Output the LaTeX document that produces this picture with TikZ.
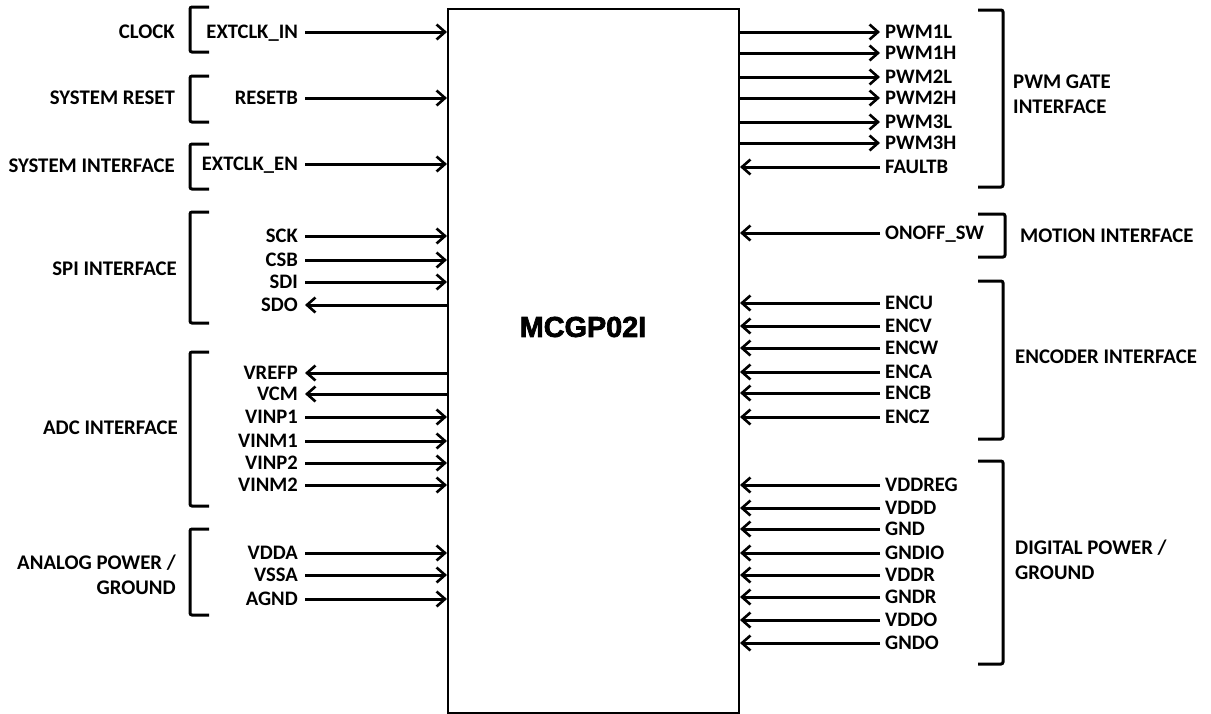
\documentclass[tikz,border=0pt]{standalone}
\usepackage{fontspec}
\setmainfont{Carlito}
\newfontfamily\titlefont{Liberation Sans}[BoldFeatures={FakeBold=2.5}]
\usetikzlibrary{arrows.meta}
\begin{document}
\begin{tikzpicture}[x=1pt,y=-1pt,
  pin/.style={font=\bfseries\fontsize{20.6}{22}\selectfont, inner sep=0pt},
  grp/.style={font=\bfseries\fontsize{20.8}{25.5}\selectfont, inner sep=0pt},
  sig/.style={line width=3pt},
  tipend/.style={-{Straight Barb[length=8.5pt,width=15pt,line width=2.6pt]}},
  tipstart/.style={{Straight Barb[length=8.5pt,width=15pt,line width=2.6pt]}-},
  brk/.style={line width=3pt, rounded corners=2pt}]
\useasboundingbox (0,0) rectangle (1211,713);
\node[draw, line width=2pt, minimum width=291pt, minimum height=704pt, inner sep=0pt, anchor=north west] (chip) at (447,8) {};
\node[font=\titlefont\bfseries\fontsize{28.8}{30}\selectfont, inner sep=0pt] (title) at (583,327) {MCGP02I};

% left pins
\foreach \t/\y/\d [count=\i] in {EXTCLK\_IN/32/tipend, RESETB/98/tipend, EXTCLK\_EN/164/tipend,
  SCK/236/tipend, CSB/260/tipend, SDI/282/tipend, SDO/305/tipstart,
  VREFP/373/tipstart, VCM/394/tipstart, VINP1/417/tipend, VINM1/441/tipend, VINP2/463/tipend, VINM2/485/tipend,
  VDDA/553/tipend, VSSA/575/tipend, AGND/599/tipend}{
  \node[pin, anchor=base east] (L\i) at (298,\y+6.8) {\t};
  \coordinate (La\i) at ([xshift=7pt,yshift=6.8pt]L\i.base east);
  \draw[sig,\d] (La\i) -- (La\i -| chip.west);
}

% right pins
\foreach \t/\y/\d [count=\i] in {PWM1L/32/tipstart, PWM1H/53/tipstart, PWM2L/77/tipstart, PWM2H/98/tipstart,
  PWM3L/122/tipstart, PWM3H/143/tipstart, FAULTB/167/tipend, ONOFF\_SW/233/tipend,
  ENCU/303/tipend, ENCV/326/tipend, ENCW/348/tipend, ENCA/372/tipend, ENCB/393/tipend, ENCZ/417/tipend,
  VDDREG/485/tipend, VDDD/508/tipend, GND/529/tipend, GNDIO/553/tipend, VDDR/575/tipend, GNDR/597/tipend,
  VDDO/620/tipend, GNDO/643/tipend}{
  \node[pin, anchor=base west] (R\i) at (885,\y+6.8) {\t};
  \coordinate (Ra\i) at ([xshift=-5pt,yshift=6.8pt]R\i.base west);
  \draw[sig,\d] (Ra\i) -- (Ra\i -| chip.east);
}

% left brackets
\foreach \a/\b in {7/52, 76/122, 144/189, 212/323, 352/506, 529/615}{
  \draw[brk] (209,\a) -- (190,\a) -- (190,\b) -- (209,\b);
}
% right brackets
\foreach \a/\b/\x in {10/187/1003, 214/257/1005, 281/439/1003, 461/664/1003}{
  \draw[brk] (978,\a) -- (\x,\a) -- (\x,\b) -- (978,\b);
}

% left group labels
\node[grp, anchor=base east] (gclock) at (175,38.8) {CLOCK};
\node[grp, anchor=base east] (greset) at (175,104.8) {SYSTEM RESET};
\node[grp, anchor=base east] (gsys) at (175,172.8) {SYSTEM INTERFACE};
\node[grp, anchor=base east] (gspi) at (177,275.8) {SPI INTERFACE};
\node[grp, anchor=base east] (gadc) at (178,434.8) {ADC INTERFACE};
\node[grp, anchor=east, align=right] (gana) at (176,575) {ANALOG POWER /\\GROUND};

% right group labels
\node[grp, anchor=west, align=left] (gpwm) at (1013,94) {PWM GATE\\INTERFACE};
\node[grp, anchor=base west] (gmot) at (1020,242.8) {MOTION INTERFACE};
\node[grp, anchor=base west] (genc) at (1015,363.8) {ENCODER INTERFACE};
\node[grp, anchor=west, align=left] (gdig) at (1015,560) {DIGITAL POWER /\\GROUND};
\end{tikzpicture}
\end{document}
